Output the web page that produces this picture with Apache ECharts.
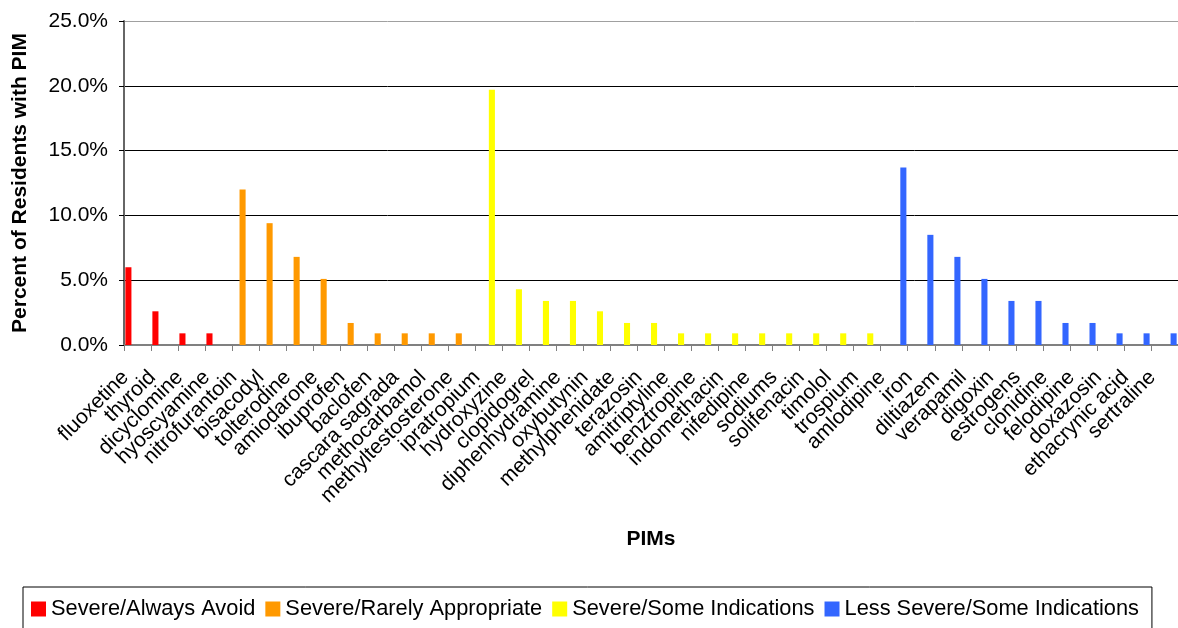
<!DOCTYPE html>
<html>
<head>
<meta charset="utf-8">
<script src="https://cdn.jsdelivr.net/npm/echarts@6/dist/echarts.min.js"></script>
<style>
html,body{margin:0;padding:0;background:#fff;}
#chart{width:1178px;height:628px;}
</style>
</head>
<body>
<div id="chart"></div>
<script>
const seriesNames = ['Severe/Always Avoid', 'Severe/Rarely Appropriate', 'Severe/Some Indications', 'Less Severe/Some Indications'];
const seriesColors = ['#FF0000', '#FF9900', '#FFFF00', '#3366FF'];

const avoidDrugs = ['fluoxetine', 'thyroid', 'dicyclomine', 'hyoscyamine'];
const avoidValues = [6.0, 2.6, 0.9, 0.9];

const rareDrugs = ['nitrofurantoin', 'bisacodyl', 'tolterodine', 'amiodarone', 'ibuprofen', 'baclofen', 'cascara sagrada', 'methocarbamol', 'methyltestosterone'];
const rareValues = [12.0, 9.4, 6.8, 5.1, 1.7, 0.9, 0.9, 0.9, 0.9];

const someDrugs = ['ipratropium', 'hydroxyzine', 'clopidogrel', 'diphenhydramine', 'oxybutynin', 'methylphenidate', 'terazosin', 'amitriptyline', 'benztropine', 'indomethacin', 'nifedipine', 'sodiums', 'solifenacin', 'timolol', 'trospium'];
const someValues = [19.7, 4.3, 3.4, 3.4, 2.6, 1.7, 1.7, 0.9, 0.9, 0.9, 0.9, 0.9, 0.9, 0.9, 0.9];

const lessDrugs = ['amlodipine', 'iron', 'diltiazem', 'verapamil', 'digoxin', 'estrogens', 'clonidine', 'felodipine', 'doxazosin', 'ethacrynic acid', 'sertraline'];
const lessValues = [13.7, 8.5, 6.8, 5.1, 3.4, 3.4, 1.7, 1.7, 0.9, 0.9, 0.9];

const yTicks = [0, 5, 10, 15, 20, 25];

const groups = [
  [avoidDrugs, avoidValues],
  [rareDrugs, rareValues],
  [someDrugs, someValues],
  [lessDrugs, lessValues]
];
const categories = [].concat(avoidDrugs, rareDrugs, someDrugs, lessDrugs);

const FONT = '"Liberation Sans", Arial, sans-serif';

const series = groups.map(function (g, i) {
  const names = g[0], vals = g[1];
  return {
    name: seriesNames[i],
    type: 'bar',
    barGap: '0%',
    barCategoryGap: '10%',
    itemStyle: { color: seriesColors[i] },
    data: categories.map(function (c) {
      const k = names.indexOf(c);
      return k >= 0 ? vals[k] : null;
    })
  };
});

const chart = echarts.init(document.getElementById('chart'), null, { renderer: 'canvas' });
chart.setOption({
  backgroundColor: '#ffffff',
  animation: false,
  textStyle: { fontFamily: FONT },
  grid: { left: 124, top: 21, width: 1057, height: 324, containLabel: false },
  legend: {
    data: seriesNames,
    left: 23,
    top: 587,
    orient: 'horizontal',
    icon: 'rect',
    itemWidth: 15,
    itemHeight: 15,
    itemGap: 10,
    padding: [11, 13, 40, 8],
    borderColor: '#000',
    borderWidth: 1,
    textStyle: { fontFamily: FONT, fontSize: 21.8, color: '#000' }
  },
  xAxis: {
    type: 'category',
    data: categories,
    name: 'PIMs',
    nameLocation: 'middle',
    nameGap: 184,
    nameTextStyle: { fontFamily: FONT, fontSize: 21, fontWeight: 'bold', color: '#000' },
    axisLine: { lineStyle: { color: '#808080', width: 2 } },
    axisTick: { show: true, length: 6, lineStyle: { color: '#808080', width: 1 } },
    axisLabel: {
      interval: 0,
      rotate: 45,
      margin: 17,
      padding: [0, 17, 0, 0],
      fontFamily: FONT,
      fontSize: 21,
      color: '#000'
    },
    splitLine: { show: false }
  },
  yAxis: {
    type: 'value',
    min: yTicks[0],
    max: yTicks[yTicks.length - 1],
    interval: yTicks[1] - yTicks[0],
    name: 'Percent of Residents with PIM',
    nameLocation: 'middle',
    nameGap: 93,
    nameTextStyle: { fontFamily: FONT, fontSize: 21, fontWeight: 'bold', color: '#000' },
    axisLine: { show: true, lineStyle: { color: '#666666', width: 2 } },
    axisTick: { show: true, length: 5, lineStyle: { color: '#000', width: 1 } },
    axisLabel: {
      margin: 16,
      fontFamily: FONT,
      fontSize: 21,
      color: '#000',
      formatter: function (v) { return v.toFixed(1) + '%'; }
    },
    splitLine: { show: true, lineStyle: { color: ['#000', '#000', '#000', '#000', '#000', '#a0a0a0'], width: 1 } }
  },
  series: series
});
</script>
</body>
</html>
